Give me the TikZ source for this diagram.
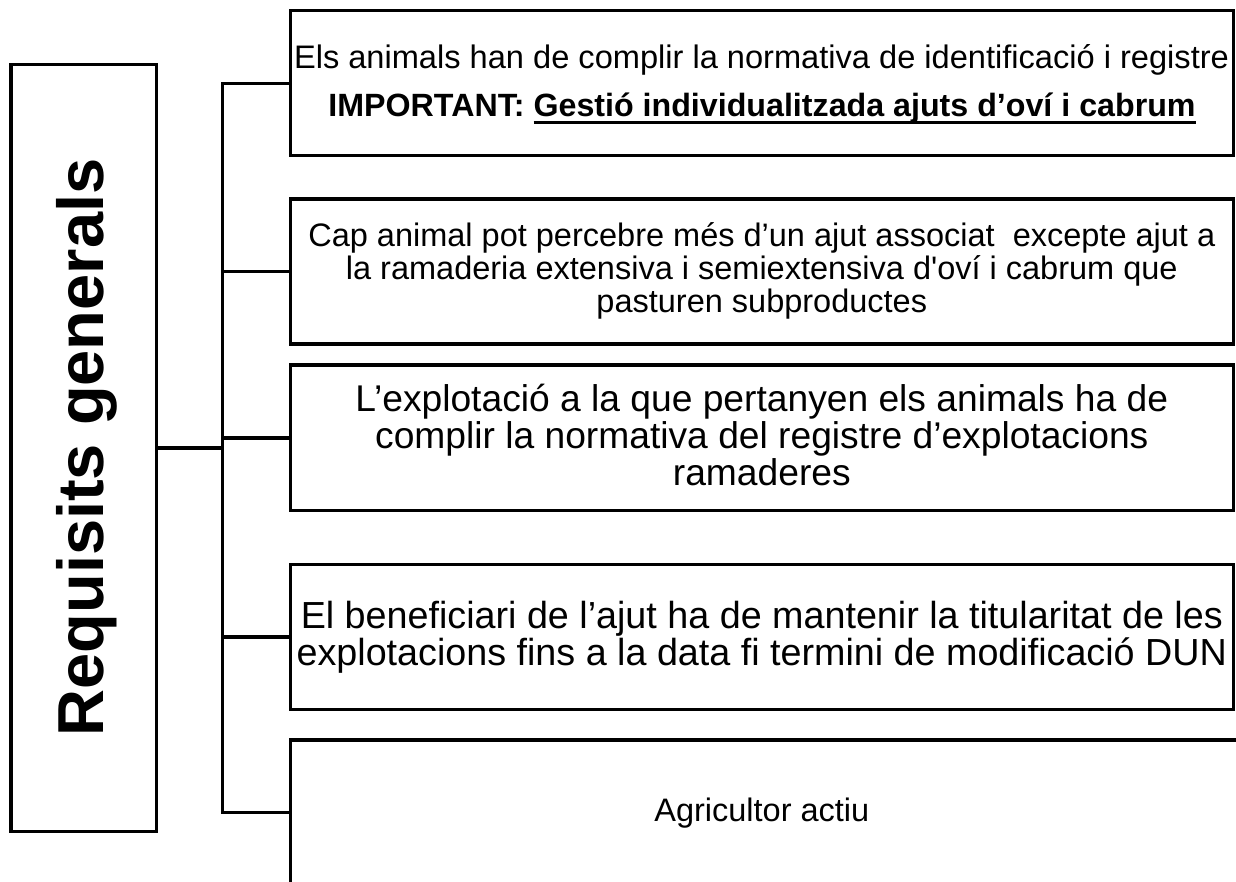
\documentclass[tikz,border=0pt]{standalone}
\usepackage{fontspec}
\newfontfamily\arial{Liberation Sans}
\newcommand\fsz[1]{\fontsize{#1}{#1}\selectfont}
\newcommand\myul[1]{\setbox0\hbox{#1}\rlap{\vrule width\wd0 height -3.7pt depth 7pt}\box0}
\begin{document}
\begin{tikzpicture}[x=1pt,y=-1pt,
  boxnode/.style={draw=black, line width=3.2pt, fill=white, rectangle, inner sep=0pt, minimum width=943pt},
  txt/.style={anchor=base, inner sep=0pt, font=\arial},
  conn/.style={draw=black, line width=3.2pt}]
\useasboundingbox (0,0) rectangle (1236,882);
\fill[white] (0,0) rectangle (1236,882);
% left box
\node[draw=black, line width=3.2pt, rectangle, inner sep=0pt, minimum width=145.7pt, minimum height=767.4pt] (L) at (83.85,448) {};
\node[txt, rotate=90, font=\arial\bfseries\fsz{65}] (Lt) at (103,447.5) {Requisits generals};
% right boxes
\node[boxnode, minimum height=144.7pt] (b1) at (761.8,83.2) {};
\node[boxnode, minimum height=145pt] (b2) at (761.8,271.5) {};
\node[boxnode, minimum height=145.7pt] (b3) at (761.8,437.9) {};
\node[boxnode, minimum height=145.5pt] (b4) at (761.8,637) {};
\node[boxnode, minimum height=145pt, minimum width=970pt] (b5) at (775.3,812.5) {};
% connectors
\coordinate (tr) at (222.7,448);
\draw[conn] (L.east) -- (tr);
\draw[conn] (b1.west) -| (tr) |- (b5.west);
\draw[conn] (b2.west) -- (b2.west -| tr);
\draw[conn] (b3.west) -- (b3.west -| tr);
\draw[conn] (b4.west) -- (b4.west -| tr);
% texts
\node[txt, font=\arial\fsz{32.6}] (t1a) at (761.5,69) {Els animals han de complir la normativa de identificació i registre};
\node[txt, font=\arial\bfseries\fsz{32.2}] (t1b) at (762,117) {IMPORTANT: \myul{Gestió individualitzada ajuts d’oví i cabrum}};
\node[txt, font=\arial\fsz{32.5}] (t2a) at (761.8,247) {Cap animal pot percebre més d’un ajut associat~ excepte ajut a};
\node[txt, font=\arial\fsz{32.5}] (t2b) at (761.8,280) {la ramaderia extensiva i semiextensiva d'oví i cabrum que};
\node[txt, font=\arial\fsz{32.5}] (t2c) at (761.8,313) {pasturen subproductes};
\node[txt, font=\arial\fsz{37.2}] (t3a) at (761.8,411) {L’explotació a la que pertanyen els animals ha de};
\node[txt, font=\arial\fsz{37.2}] (t3b) at (761.8,448) {complir la normativa del registre d’explotacions};
\node[txt, font=\arial\fsz{37.2}] (t3c) at (761.8,485) {ramaderes};
\node[txt, font=\arial\fsz{37.7}] (t4a) at (761.8,628) {El beneficiari de l’ajut ha de mantenir la titularitat de les};
\node[txt, font=\arial\fsz{37.7}] (t4b) at (761.8,665) {explotacions fins a la data fi termini de modificació DUN};
\node[txt, font=\arial\fsz{32.5}] (t5) at (761.8,821) {Agricultor actiu};
\end{tikzpicture}
\end{document}
